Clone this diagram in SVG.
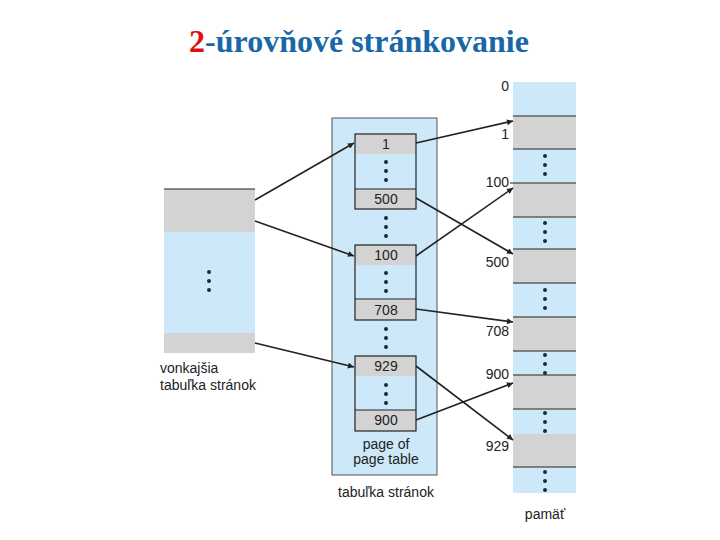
<svg xmlns="http://www.w3.org/2000/svg" width="720" height="540" viewBox="0 0 720 540">
<style>
.t{font-family:"Liberation Sans",Arial,sans-serif;font-size:14px;fill:#222}
.b{fill:#cde9f9}
.g{fill:#d3d3d3}
.ln{stroke:#222;stroke-width:1.2;fill:none}
.ar{stroke:#222;stroke-width:1.6;fill:none;marker-end:url(#ah)}
.d{fill:#1a2a3a}
</style>
<defs>
<marker id="ah" viewBox="0 0 10 10" refX="10" refY="5" markerWidth="7" markerHeight="6" orient="auto" markerUnits="userSpaceOnUse">
<path d="M0,0 L10,5 L0,10 z" fill="#222"/>
</marker>
<g id="dots3"><circle cx="0" cy="0" r="2" class="d"/><circle cx="0" cy="9" r="2" class="d"/><circle cx="0" cy="18" r="2" class="d"/></g>
</defs>
<rect width="720" height="540" fill="#fff"/>
<text x="359" y="52" text-anchor="middle" font-family="'Liberation Serif','Times New Roman',serif" font-weight="bold" font-size="32" fill="#1a67a8"><tspan fill="#e01010">2</tspan>-úrovňové stránkovanie</text>

<g id="outer-table">
<rect x="164" y="189" width="91" height="164" class="b"/>
<rect x="164" y="189" width="91" height="43" class="g"/>
<rect x="164" y="333" width="91" height="20" class="g"/>
<line x1="164" y1="189" x2="255" y2="189" class="ln"/>
<use href="#dots3" x="209" y="272"/>
<text x="160" y="373" class="t">vonkajšia</text>
<text x="160" y="390" class="t">tabuľka stránok</text>
</g>

<g id="page-table">
<rect x="332" y="118" width="105" height="357" class="b" stroke="#555" stroke-width="1"/>
<rect x="355" y="134" width="61" height="20" class="g"/>
<rect x="355" y="189" width="61" height="20" class="g"/>
<rect x="355" y="134" width="61" height="75" class="ln"/>
<line x1="355" y1="189" x2="416" y2="189" class="ln"/>
<text x="386" y="149" class="t" text-anchor="middle">1</text>
<use href="#dots3" x="386" y="162"/>
<text x="386" y="204" class="t" text-anchor="middle">500</text>
<use href="#dots3" x="386" y="218"/>
<rect x="355" y="245" width="61" height="20" class="g"/>
<rect x="355" y="299" width="61" height="21" class="g"/>
<rect x="355" y="245" width="61" height="75" class="ln"/>
<line x1="355" y1="299" x2="416" y2="299" class="ln"/>
<text x="386" y="260" class="t" text-anchor="middle">100</text>
<use href="#dots3" x="386" y="273"/>
<text x="386" y="315" class="t" text-anchor="middle">708</text>
<use href="#dots3" x="386" y="329"/>
<rect x="355" y="356" width="61" height="20" class="g"/>
<rect x="355" y="410" width="61" height="21" class="g"/>
<rect x="355" y="356" width="61" height="75" class="ln"/>
<line x1="355" y1="410" x2="416" y2="410" class="ln"/>
<text x="386" y="371" class="t" text-anchor="middle">929</text>
<use href="#dots3" x="386" y="385"/>
<text x="386" y="425" class="t" text-anchor="middle">900</text>
<text x="386" y="449" class="t" text-anchor="middle">page of</text>
<text x="386" y="464" class="t" text-anchor="middle">page table</text>
<text x="386" y="497" class="t" text-anchor="middle">tabuľka stránok</text>
</g>

<g id="memory">
<rect x="513" y="82" width="63" height="411" class="b"/>
<rect x="513" y="116" width="63" height="33" class="g"/>
<rect x="513" y="183" width="63" height="34" class="g"/>
<rect x="513" y="249" width="63" height="34" class="g"/>
<rect x="513" y="317" width="63" height="34" class="g"/>
<rect x="513" y="375" width="63" height="34" class="g"/>
<rect x="513" y="434" width="63" height="33" class="g"/>
<path class="ln" d="M513,116H576M513,149H576M510,183H576M513,217H576M513,249H576M513,283H576M513,317H576M513,351H576M513,375H576M513,409H576M513,467H576"/>
<use href="#dots3" x="545" y="156"/>
<use href="#dots3" x="545" y="223"/>
<use href="#dots3" x="545" y="290"/>
<use href="#dots3" x="545" y="355"/>
<use href="#dots3" x="545" y="413"/>
<use href="#dots3" x="545" y="472"/>
<text x="509" y="91" class="t" text-anchor="end">0</text>
<text x="509" y="139" class="t" text-anchor="end">1</text>
<text x="509" y="187" class="t" text-anchor="end">100</text>
<text x="509" y="267" class="t" text-anchor="end">500</text>
<text x="509" y="336" class="t" text-anchor="end">708</text>
<text x="509" y="379" class="t" text-anchor="end">900</text>
<text x="509" y="451" class="t" text-anchor="end">929</text>
<text x="545" y="519" class="t" text-anchor="middle">pamäť</text>
</g>

<g id="connectors">
<line x1="255" y1="200" x2="354" y2="143" class="ar"/>
<line x1="255" y1="221" x2="354" y2="256" class="ar"/>
<line x1="255" y1="343" x2="354" y2="367" class="ar"/>
<line x1="416" y1="143" x2="513" y2="121" class="ar"/>
<line x1="416" y1="198" x2="513" y2="254" class="ar"/>
<line x1="416" y1="256" x2="513" y2="188" class="ar"/>
<line x1="416" y1="309" x2="513" y2="322" class="ar"/>
<line x1="416" y1="366" x2="513" y2="440" class="ar"/>
<line x1="416" y1="420" x2="513" y2="383" class="ar"/>
</g>
</svg>
